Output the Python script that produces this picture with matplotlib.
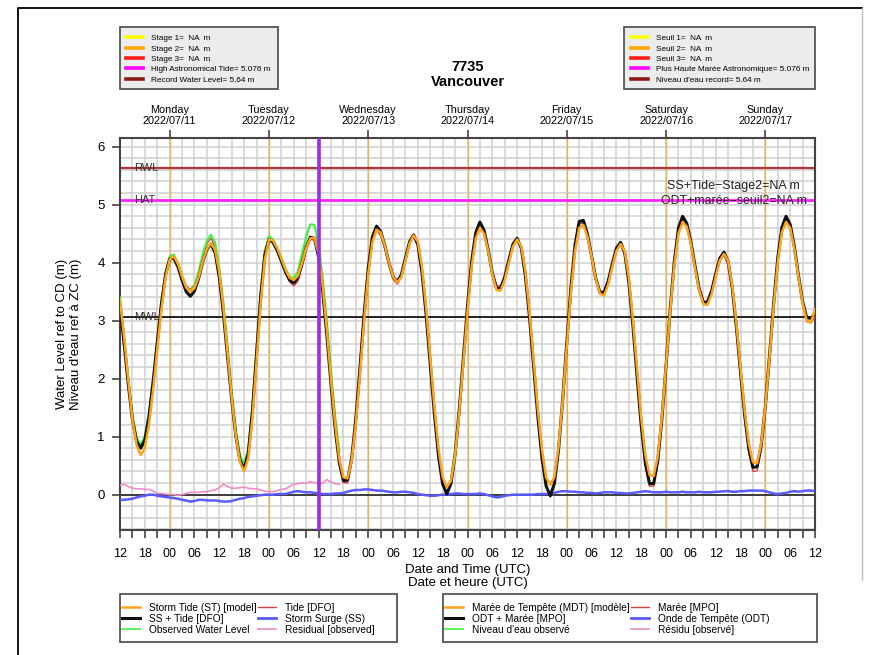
import numpy as np
import matplotlib
matplotlib.use("Agg")
import matplotlib.pyplot as plt
from matplotlib.lines import Line2D
from matplotlib.patches import Rectangle

plt.rcParams['font.family'] = ['Liberation Sans', 'DejaVu Sans']

# hourly series, starting 2022/07/10 12 UTC (one row = 12 hours)
ss_tide = [3.25, 2.60, 1.90, 1.30, 0.92, 0.80, 0.94, 1.34, 1.94, 2.62, 3.28, 3.79,
           4.06, 4.08, 3.93, 3.70, 3.50, 3.42, 3.51, 3.73, 4.01, 4.23, 4.32, 4.17,
           3.75, 3.12, 2.38, 1.64, 1.01, 0.59, 0.44, 0.71, 1.43, 2.42, 3.41, 4.13,
           4.40, 4.35, 4.21, 4.03, 3.84, 3.70, 3.65, 3.74, 3.98, 4.26, 4.44, 4.42,
           4.10, 3.51, 2.75, 1.91, 1.15, 0.56, 0.24, 0.25, 0.62, 1.31, 2.18, 3.10,
           3.90, 4.44, 4.63, 4.54, 4.30, 4.00, 3.76, 3.67, 3.79, 4.08, 4.36, 4.48,
           4.31, 3.83, 3.10, 2.25, 1.39, 0.66, 0.18, 0.01, 0.19, 0.69, 1.46, 2.36,
           3.25, 4.02, 4.52, 4.70, 4.56, 4.22, 3.82, 3.56, 3.56, 3.75, 4.05, 4.32,
           4.42, 4.25, 3.77, 3.05, 2.20, 1.35, 0.63, 0.15, -0.02, 0.19, 0.77, 1.63,
           2.62, 3.57, 4.31, 4.71, 4.73, 4.49, 4.11, 3.73, 3.49, 3.49, 3.68, 3.98,
           4.25, 4.35, 4.17, 3.66, 2.90, 2.03, 1.19, 0.54, 0.19, 0.19, 0.59, 1.31,
           2.23, 3.19, 4.03, 4.60, 4.80, 4.68, 4.36, 3.94, 3.55, 3.32, 3.32, 3.51,
           3.81, 4.08, 4.18, 4.02, 3.56, 2.89, 2.11, 1.37, 0.79, 0.47, 0.48, 0.85,
           1.52, 2.39, 3.29, 4.08, 4.61, 4.80, 4.66, 4.28, 3.78, 3.33, 3.05, 3.04,
           3.12]

storm_tide = [3.35, 2.72, 1.98, 1.30, 0.86, 0.68, 0.80, 1.20, 1.80, 2.50, 3.18, 3.74,
              4.05, 4.11, 3.98, 3.76, 3.57, 3.50, 3.56, 3.75, 4.02, 4.24, 4.33, 4.22,
              3.84, 3.22, 2.46, 1.68, 1.02, 0.56, 0.40, 0.62, 1.30, 2.28, 3.28, 4.05,
              4.40, 4.38, 4.25, 4.07, 3.88, 3.74, 3.70, 3.77, 3.99, 4.25, 4.42, 4.43,
              4.15, 3.60, 2.85, 2.00, 1.23, 0.62, 0.30, 0.28, 0.58, 1.22, 2.06, 2.98,
              3.80, 4.35, 4.57, 4.52, 4.30, 4.00, 3.76, 3.66, 3.75, 4.04, 4.33, 4.47,
              4.36, 3.93, 3.22, 2.38, 1.52, 0.80, 0.30, 0.13, 0.24, 0.68, 1.40, 2.28,
              3.15, 3.92, 4.42, 4.60, 4.50, 4.20, 3.80, 3.53, 3.52, 3.70, 4.00, 4.28,
              4.40, 4.28, 3.85, 3.15, 2.32, 1.48, 0.78, 0.30, 0.17, 0.30, 0.82, 1.62,
              2.56, 3.48, 4.20, 4.60, 4.65, 4.45, 4.10, 3.72, 3.47, 3.43, 3.62, 3.93,
              4.20, 4.32, 4.20, 3.74, 3.00, 2.15, 1.32, 0.68, 0.34, 0.32, 0.66, 1.35,
              2.24, 3.16, 3.96, 4.50, 4.70, 4.62, 4.32, 3.90, 3.52, 3.29, 3.27, 3.45,
              3.76, 4.04, 4.15, 4.03, 3.60, 2.95, 2.18, 1.45, 0.88, 0.56, 0.54, 0.88,
              1.52, 2.36, 3.24, 4.00, 4.52, 4.70, 4.60, 4.24, 3.76, 3.30, 3.00, 2.96,
              3.20]

surge = [-0.09, -0.09, -0.08, -0.07, -0.05, -0.03, -0.02, 0.00, 0.00, -0.02, -0.03, -0.04,
         -0.05, -0.06, -0.07, -0.09, -0.10, -0.12, -0.11, -0.09, -0.09, -0.10, -0.10, -0.10,
         -0.11, -0.12, -0.12, -0.11, -0.09, -0.07, -0.06, -0.04, -0.03, -0.02, -0.01, 0.00,
         0.00, 0.00, 0.01, 0.01, 0.01, 0.03, 0.05, 0.06, 0.05, 0.04, 0.04, 0.03,
         0.02, 0.01, 0.01, 0.01, 0.02, 0.02, 0.03, 0.05, 0.07, 0.08, 0.08, 0.09,
         0.09, 0.08, 0.07, 0.07, 0.06, 0.05, 0.04, 0.04, 0.05, 0.05, 0.04, 0.03,
         0.01, 0.00, -0.01, -0.02, -0.02, -0.01, 0.00, 0.00, 0.01, 0.02, 0.02, 0.01,
         0.01, 0.01, 0.01, 0.02, 0.01, -0.01, -0.03, -0.05, -0.04, -0.02, -0.01, 0.00,
         0.00, 0.00, 0.00, 0.00, 0.00, 0.01, 0.01, 0.01, 0.02, 0.03, 0.05, 0.06,
         0.06, 0.05, 0.05, 0.04, 0.04, 0.03, 0.03, 0.02, 0.03, 0.04, 0.04, 0.04,
         0.03, 0.03, 0.02, 0.02, 0.03, 0.04, 0.05, 0.06, 0.05, 0.04, 0.04, 0.04,
         0.05, 0.04, 0.04, 0.04, 0.05, 0.04, 0.04, 0.04, 0.05, 0.04, 0.04, 0.04,
         0.05, 0.05, 0.06, 0.06, 0.05, 0.05, 0.06, 0.06, 0.07, 0.07, 0.07, 0.07,
         0.06, 0.04, 0.02, 0.01, 0.02, 0.03, 0.05, 0.06, 0.05, 0.06, 0.07, 0.07,
         0.06]

# observations stop shortly after the analysis time
observed = [3.40, 2.72, 2.00, 1.38, 0.98, 0.86, 1.00, 1.40, 2.00, 2.66, 3.32, 3.83,
            4.10, 4.14, 3.99, 3.77, 3.58, 3.51, 3.60, 3.84, 4.14, 4.38, 4.48, 4.34,
            3.90, 3.30, 2.55, 1.78, 1.13, 0.68, 0.52, 0.78, 1.50, 2.50, 3.48, 4.20,
            4.46, 4.40, 4.26, 4.08, 3.90, 3.76, 3.73, 3.85, 4.15, 4.45, 4.66, 4.65,
            4.32, 3.72, 3.00, 2.14, 1.36, 0.75]

residual = [0.16, 0.18, 0.14, 0.11, 0.10, 0.10, 0.09, 0.09, 0.06, 0.02, 0.02, 0.01,
            0.00, 0.00, -0.01, 0.00, 0.02, 0.04, 0.04, 0.04, 0.05, 0.05, 0.07, 0.08,
            0.12, 0.18, 0.14, 0.11, 0.11, 0.12, 0.13, 0.11, 0.10, 0.10, 0.08, 0.06,
            0.05, 0.05, 0.07, 0.09, 0.10, 0.14, 0.18, 0.19, 0.20, 0.20, 0.22, 0.21,
            0.18, 0.20, 0.26, 0.22, 0.19, 0.18]

day_names = ['Monday', 'Tuesday', 'Wednesday', 'Thursday', 'Friday', 'Saturday', 'Sunday']
day_dates = ['2022/07/11', '2022/07/12', '2022/07/13', '2022/07/14',
             '2022/07/15', '2022/07/16', '2022/07/17']

hat = 5.076
rwl = 5.64
mwl = 3.06
now_hour = 48          # 2022/07/12 12 UTC
start_utc = 12

W, H = 871, 655

hours = np.arange(len(ss_tide))
tide = np.array(ss_tide) - np.array(surge)
midnights = np.arange(24 - start_utc, len(ss_tide), 24)

fig = plt.figure(figsize=(W / 100, H / 100), dpi=100)
ax = fig.add_axes([120 / W, 1 - 530 / H, 695 / W, 392 / H])

# grid: every 3 h and every 0.2 m
for h in range(0, 169, 3):
    ax.axvline(h, color='#cfcfcf', lw=1.1, zorder=0)
for y in np.arange(-0.6, 6.2, 0.2):
    ax.axhline(y, color='#cfcfcf', lw=1.1, zorder=0)
for m in midnights:
    ax.axvline(m, color='#e8b45a', lw=1.0, zorder=1)

ax.axhline(rwl, color='#b03535', lw=1.6, zorder=2)
ax.axhline(hat, color='#ff22ff', lw=2.0, zorder=2)
ax.axhline(mwl, color='#222222', lw=1.4, zorder=2)
ax.axhline(0, color='#222222', lw=1.2, zorder=2)
for lab, val in [('RWL', rwl), ('HAT', hat), ('MWL', mwl)]:
    ax.text(3.3, val, lab, fontsize=8, color='#333333', ha='left', va='center', zorder=3)

ax.plot(hours[:len(residual)], residual, color='#f08cc8', lw=1.2, zorder=3)
ax.plot(hours, surge, color='#5a5aff', lw=1.8, zorder=3)
ax.plot(hours, tide, color='#e04040', lw=1.0, zorder=3)
ax.plot(hours[:len(observed)], observed, color='#44ee44', lw=1.6, zorder=4)
ax.plot(hours, ss_tide, color='#111111', lw=2.2, zorder=5)
ax.plot(hours, storm_tide, color='#ffa31a', lw=1.8, zorder=6)

ax.axvline(now_hour, color='#9a2cf0', lw=2.6, zorder=7)

ax.text(680 / 695 * 168, 5.33, 'SS+Tide\u2212Stage2=NA m', fontsize=9,
        ha='right', va='center', color='#222222', zorder=8)
ax.text(687 / 695 * 168, 5.06, 'ODT+marée\u2212seuil2=NA m', fontsize=8.9,
        ha='right', va='center', color='#222222', zorder=8)

ax.set_xlim(0, 168)
ax.set_ylim(-0.61, 6.15)
ax.set_xticks(np.arange(0, 169, 3), minor=True)
ax.set_xticks(np.arange(0, 169, 6))
ax.set_xticklabels(['%02d' % ((start_utc + h) % 24) for h in range(0, 169, 6)])
ax.set_yticks(range(0, 7))
ax.tick_params(axis='x', which='both', direction='out', length=6, width=1.2,
               color='#444444', labelsize=9, pad=7)
ax.tick_params(axis='y', direction='out', length=6, width=1.2, color='#444444',
               labelsize=9.5, pad=5)
for s in ax.spines.values():
    s.set_color('#444444')
    s.set_linewidth(1.5)

ax.set_xlabel('Date and Time (UTC)\nDate et heure (UTC)', fontsize=9.5, labelpad=3,
              linespacing=1.05)
ax.set_ylabel("Water Level ref to CD (m)\nNiveau d'eau ref à ZC (m)", fontsize=9.5,
              labelpad=11, linespacing=1.25)

top = ax.twiny()
top.set_xlim(ax.get_xlim())
top.set_xticks(midnights)
top.set_xticklabels([n + '\n' + d for n, d in zip(day_names, day_dates)], fontsize=7.8,
                    linespacing=1.1)
top.tick_params(axis='x', direction='out', length=6, width=1.2, color='#444444', pad=3)
for s in top.spines.values():
    s.set_visible(False)

fig.text(467.5 / W, 1 - 67 / H, '7735', fontsize=10.5, fontweight='bold',
         ha='center', va='center')
fig.text(467.5 / W, 1 - 82 / H, 'Vancouver', fontsize=10.5, fontweight='bold',
         ha='center', va='center')


def legend_box(handles, labels, x0, y0, x1, y1, hx, hy, face, **kw):
    # frame drawn separately so the box size is fixed in pixels
    fig.add_artist(Rectangle((x0 / W, 1 - y1 / H), (x1 - x0) / W, (y1 - y0) / H,
                             transform=fig.transFigure, facecolor=face,
                             edgecolor='#555555', lw=1.3, zorder=1))
    lg = fig.legend(handles, labels, loc='upper left', bbox_to_anchor=(hx / W, 1 - hy / H),
                    frameon=False, borderpad=0, borderaxespad=0, **kw)
    lg.set_zorder(2)
    return lg


# threshold legends
stage_colors = ['#ffff00', '#ffa500', '#ff1a1a', '#ff00ff', '#8b1a1a']
en_labels = ['Stage 1=  NA  m', 'Stage 2=  NA  m', 'Stage 3=  NA  m',
             'High Astronomical Tide= %.3f m' % hat, 'Record Water Level= %.2f m' % rwl]
fr_labels = ['Seuil 1=  NA  m', 'Seuil 2=  NA  m', 'Seuil 3=  NA  m',
             'Plus Haute Marée Astronomique= %.3f m' % hat, "Niveau d'eau record= %.2f m" % rwl]
stage_handles = [Line2D([], [], color=c, lw=2.6) for c in stage_colors]

top_kw = dict(fontsize=5.9, handlelength=2.1, handletextpad=0.9, labelspacing=0.32)
legend_box(stage_handles, en_labels, 120, 27, 278, 89, 126, 34.5, '#ececec', **top_kw)
legend_box(stage_handles, fr_labels, 624, 27, 815, 89, 631, 34.5, '#ececec', **top_kw)

# series legends
series_colors = ['#ffa31a', '#111111', '#44ee44', '#e04040', '#5a5aff', '#f08cc8']
series_lw = [1.8, 2.2, 1.2, 1.0, 2.0, 1.2]
series_en = ['Storm Tide (ST) [model]', 'SS + Tide [DFO]', 'Observed Water Level',
             'Tide [DFO]', 'Storm Surge (SS)', 'Residual [observed]']
series_fr = ['Marée de Tempête (MDT) [modèle]', 'ODT + Marée [MPO]', "Niveau d'eau observé",
             'Marée [MPO]', 'Onde de Tempête (ODT)', 'Résidu [observé]']
series_handles = [Line2D([], [], color=c, lw=w) for c, w in zip(series_colors, series_lw)]

bot_kw = dict(fontsize=7.3, ncol=2, handlelength=1.82, handletextpad=0.85,
              labelspacing=0.08, columnspacing=0.1)
legend_box(series_handles, series_en, 120, 594, 397, 642, 122, 603, 'white', **bot_kw)
legend_box(series_handles, series_fr, 443, 594, 817, 642, 445, 603, 'white', **bot_kw)

# page frame
fig.add_artist(Line2D([18 / W, 18 / W, 862 / W], [0, 1 - 8 / H, 1 - 8 / H],
                      transform=fig.transFigure, color='black', lw=1.3))
fig.add_artist(Line2D([862 / W, 862 / W], [1 - 8 / H, 1 - 580 / H],
                      transform=fig.transFigure, color='#bbbbbb', lw=1.0))

fig.savefig('out.png', dpi=100)
